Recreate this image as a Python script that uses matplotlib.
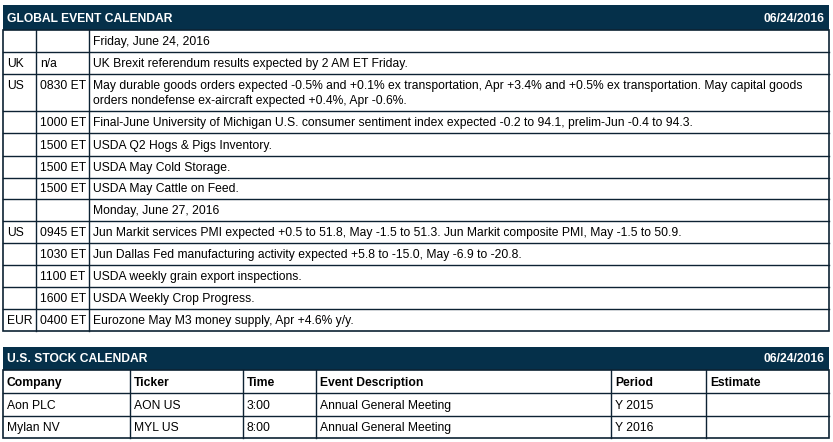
import matplotlib
matplotlib.use("Agg")
import matplotlib.pyplot as plt
from matplotlib.patches import Rectangle

plt.rcParams['font.family'] = ['Liberation Sans', 'DejaVu Sans']

# ---- data ----
global_title = 'GLOBAL EVENT CALENDAR'
stock_title = 'U.S. STOCK CALENDAR'
report_date = '06/24/2016'

event_region = ['', 'UK', 'US', '', '', '', '', '', 'US', '', '', '', 'EUR']
event_time = ['', 'n/a', '0830 ET', '1000 ET', '1500 ET', '1500 ET', '1500 ET', '',
              '0945 ET', '1030 ET', '1100 ET', '1600 ET', '0400 ET']
event_text = [
    'Friday, June 24, 2016',
    'UK Brexit referendum results expected by 2 AM ET Friday.',
    ['May durable goods orders expected -0.5% and +0.1% ex transportation, Apr +3.4% and +0.5% ex transportation. May capital goods',
     'orders nondefense ex-aircraft expected +0.4%, Apr -0.6%.'],
    'Final-June University of Michigan U.S. consumer sentiment index expected -0.2 to 94.1, prelim-Jun -0.4 to 94.3.',
    'USDA Q2 Hogs & Pigs Inventory.',
    'USDA May Cold Storage.',
    'USDA May Cattle on Feed.',
    'Monday, June 27, 2016',
    'Jun Markit services PMI expected +0.5 to 51.8, May -1.5 to 51.3. Jun Markit composite PMI, May -1.5 to 50.9.',
    'Jun Dallas Fed manufacturing activity expected +5.8 to -15.0, May -6.9 to -20.8.',
    'USDA weekly grain export inspections.',
    'USDA Weekly Crop Progress.',
    'Eurozone May M3 money supply, Apr +4.6% y/y.',
]

stock_cols = ['Company', 'Ticker', 'Time', 'Event Description', 'Period', 'Estimate']
stock_rows = [
    ['Aon PLC', 'AON US', '3:00', 'Annual General Meeting', 'Y 2015', ''],
    ['Mylan NV', 'MYL US', '8:00', 'Annual General Meeting', 'Y 2016', ''],
]

# ---- layout (pixels) ----
W, H = 833, 442
navy = '#05304a'
line = '#0d2233'
fs = 8.7

fig = plt.figure(figsize=(W / 100, H / 100), dpi=100)
ax = fig.add_axes([0, 0, 1, 1])
ax.set_xlim(0, W)
ax.set_ylim(H, 0)
ax.axis('off')

left, right = 3, 829

def header(y0, y1, title):
    ax.add_patch(Rectangle((left, y0), right - left, y1 - y0, color=navy, lw=0))
    yb = y1 - 8
    ax.text(left + 4, yb, title, color='white', fontsize=fs, fontweight='bold', va='baseline')
    ax.text(right - 4, yb, report_date, color='white', fontsize=fs, fontweight='bold',
            va='baseline', ha='right')

# global event table
header(5, 30, global_title)
row_h = [22, 22, 37, 22, 23, 22, 21, 22, 22, 22, 22, 22, 22]
col_x = [left, 36, 89, right]
y = 30
ys = [y]
for h in row_h:
    y += h
    ys.append(y)
for i in range(len(row_h)):
    y0, y1 = ys[i], ys[i + 1]
    lines = event_text[i] if isinstance(event_text[i], list) else [event_text[i]]
    yb = y1 - 7 if len(lines) == 1 else y0 + 15
    ax.text(col_x[0] + 4, yb, event_region[i], fontsize=fs, va='baseline')
    ax.text(col_x[1] + 4, yb, event_time[i], fontsize=fs, va='baseline')
    for k, t in enumerate(lines):
        ax.text(col_x[2] + 4, yb + 15 * k, t, fontsize=fs, va='baseline')
for yy in ys[1:-1]:
    ax.plot([left, right], [yy, yy], color=line, lw=1)
for xx in col_x[1:-1]:
    ax.plot([xx, xx], [ys[0], ys[-1]], color=line, lw=1)
ax.add_patch(Rectangle((left, ys[0]), right - left, ys[-1] - ys[0], fill=False,
                       ec=line, lw=1.2))

# stock table
header(347, 370, stock_title)
s_cols = [left, 130, 243, 316, 611, 706, right]
s_ys = [370, 393, 416, 438]
all_rows = [stock_cols] + stock_rows
for r, row in enumerate(all_rows):
    yb = s_ys[r + 1] - 7
    for c, val in enumerate(row):
        ax.text(s_cols[c] + 4, yb, val, fontsize=fs, va='baseline',
                fontweight='bold' if r == 0 else 'normal')
for yy in s_ys[1:-1]:
    ax.plot([left, right], [yy, yy], color=line, lw=1)
for xx in s_cols[1:-1]:
    ax.plot([xx, xx], [s_ys[0], s_ys[-1]], color=line, lw=1)
ax.add_patch(Rectangle((left, s_ys[0]), right - left, s_ys[-1] - s_ys[0], fill=False,
                       ec=line, lw=1.2))

fig.savefig('out.png', dpi=100)
